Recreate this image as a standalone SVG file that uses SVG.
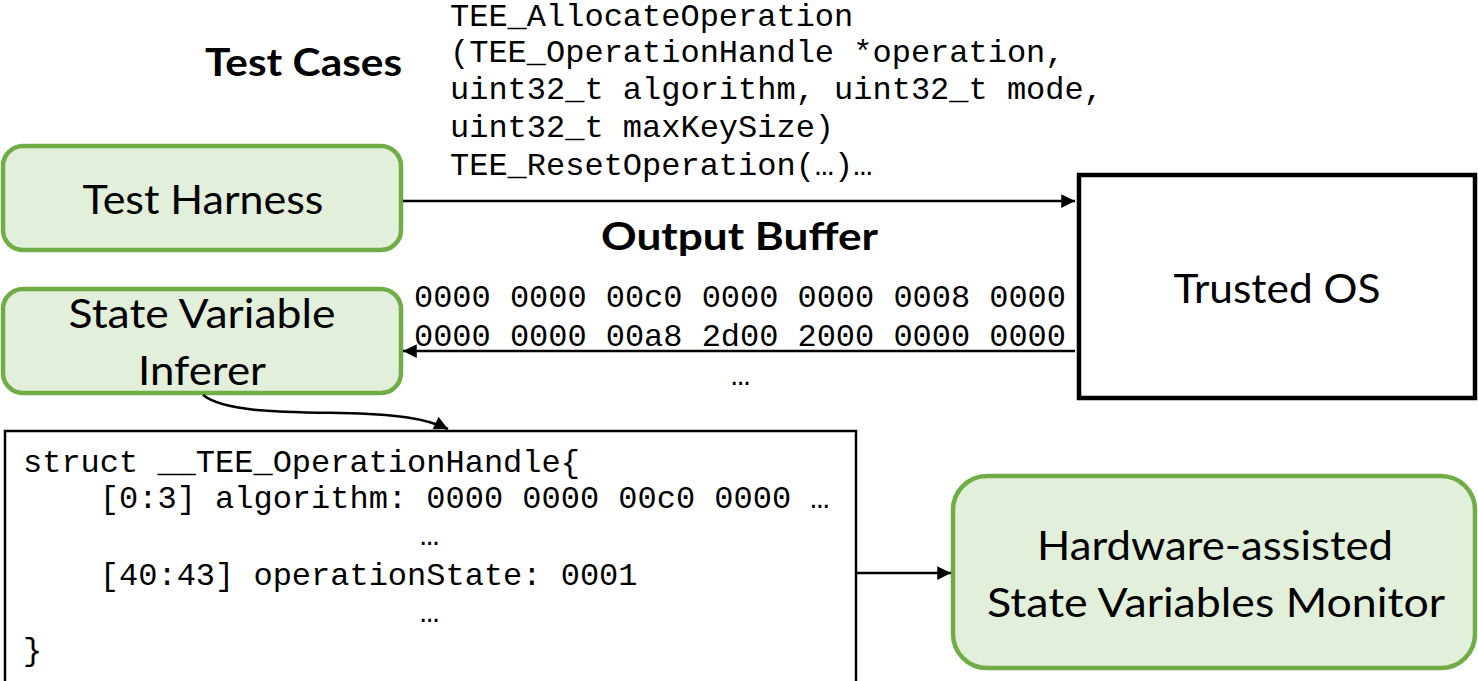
<svg xmlns="http://www.w3.org/2000/svg" width="1478" height="681" viewBox="0 0 1478 681">
<defs>
<style>
.node{fill:#E2EFDA;stroke:#70AD47;stroke-width:4.5}
.box{fill:#fff;stroke:#000}
.lbl{font-family:Lato,"Open Sans","Liberation Sans",sans-serif;font-size:40px;fill:#000;text-anchor:middle}
.bold{font-family:Lato,"Open Sans","Liberation Sans",sans-serif;font-size:38px;font-weight:bold;fill:#000}
.code{font-family:"Liberation Mono","Courier New",monospace;font-size:32px;fill:#000;white-space:pre}
.conn{fill:none;stroke:#000;stroke-width:2.5}
</style>
<marker id="ah" viewBox="0 0 10 10" refX="10" refY="5" markerWidth="6" markerHeight="5.5" orient="auto" markerUnits="strokeWidth">
<path d="M0,0 L10,5 L0,10 z" fill="#000"/>
</marker>
</defs>
<rect width="1478" height="681" fill="#fff"/>

<g id="trusted-os">
<rect class="box" x="1079" y="175" width="396" height="223" stroke-width="4.5"/>
<text class="lbl" x="1277" y="303" textLength="207" lengthAdjust="spacingAndGlyphs">Trusted OS</text>
</g>

<g id="struct-box">
<rect class="box" x="5" y="431" width="851" height="260" stroke-width="2.5"/>
<text class="code" x="23" y="472">struct __TEE_OperationHandle{</text>
<text class="code" x="23" y="508">    [0:3] algorithm: 0000 0000 00c0 0000 …</text>
<text class="code" x="420" y="545">…</text>
<text class="code" x="23" y="585">    [40:43] operationState: 0001</text>
<text class="code" x="420" y="622">…</text>
<text class="code" x="23" y="660">}</text>
</g>

<g id="test-harness">
<rect class="node" x="3" y="146" width="398" height="104" rx="20"/>
<text class="lbl" x="203" y="214" textLength="241" lengthAdjust="spacingAndGlyphs">Test Harness</text>
</g>

<g id="state-variable-inferer">
<rect class="node" x="3" y="289" width="398" height="104" rx="20"/>
<text class="lbl" x="202" y="328" textLength="267" lengthAdjust="spacingAndGlyphs">State Variable</text>
<text class="lbl" x="202" y="385" textLength="128" lengthAdjust="spacingAndGlyphs">Inferer</text>
</g>

<g id="hw-monitor">
<rect class="node" x="953" y="476" width="522" height="192" rx="34"/>
<text class="lbl" x="1215" y="560" textLength="356" lengthAdjust="spacingAndGlyphs">Hardware-assisted</text>
<text class="lbl" x="1216" y="617" textLength="458" lengthAdjust="spacingAndGlyphs">State Variables Monitor</text>
</g>

<g id="labels">
<text class="bold" x="205" y="76" textLength="197" lengthAdjust="spacingAndGlyphs">Test Cases</text>
<text class="code" x="450" y="26">TEE_AllocateOperation</text>
<text class="code" x="450" y="62">(TEE_OperationHandle *operation,</text>
<text class="code" x="450" y="99">uint32_t algorithm, uint32_t mode,</text>
<text class="code" x="450" y="137">uint32_t maxKeySize)</text>
<text class="code" x="450" y="175">TEE_ResetOperation(…)…</text>
<text class="bold" x="601" y="250" textLength="277" lengthAdjust="spacingAndGlyphs">Output Buffer</text>
<text class="code" x="414" y="307" textLength="652">0000 0000 00c0 0000 0000 0008 0000</text>
<text class="code" x="414" y="346" textLength="652">0000 0000 00a8 2d00 2000 0000 0000</text>
<text class="code" x="731" y="385">…</text>
</g>

<g id="connectors">
<path class="conn" d="M403,201 L1075,201" marker-end="url(#ah)"/>
<path class="conn" d="M1075,351 L403,351" marker-end="url(#ah)"/>
<path class="conn" d="M203,395 C225,412 280,412 340,413 C395,414 425,418 448,429" marker-end="url(#ah)"/>
<path class="conn" d="M857,573 L951,573" marker-end="url(#ah)"/>
</g>
</svg>
